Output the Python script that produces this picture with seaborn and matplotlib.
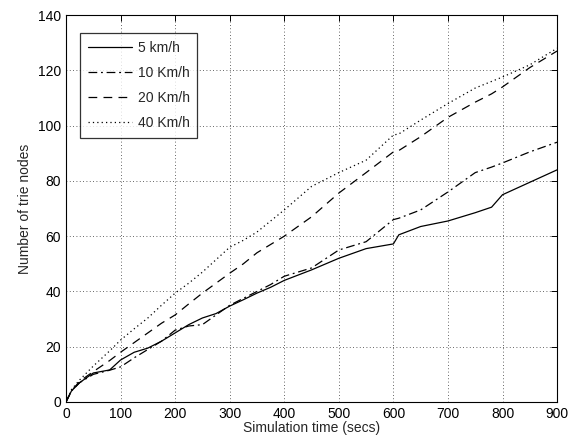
import matplotlib
matplotlib.use("Agg")
import matplotlib.pyplot as plt
import seaborn as sns
import pandas as pd

time = [0, 10, 25, 50, 80, 100, 125, 150, 175, 200, 225, 250, 275, 300, 325, 350, 375, 400,
        450, 500, 550, 600, 610, 650, 700, 750, 780, 800, 850, 900]
v5 = [0, 4, 7, 10.5, 11.6, 15.2, 18, 19.5, 22, 25, 28, 30.4, 32, 34.7, 37, 39.4, 41.5, 44,
      47.8, 52, 55.5, 57.2, 60.5, 63.5, 65.5, 68.5, 70.5, 75, 79.5, 84]
v10 = [0, 4, 7, 10, 11.5, 12.7, 16, 19, 22, 26, 27.5, 28, 31.5, 35, 37.5, 40, 42.5, 45.5,
       48.5, 55, 58, 66, 66.5, 69.5, 76, 83, 85, 86.5, 90.5, 94]
v20 = [0, 4, 7.5, 11, 15, 18, 21.5, 25, 28.5, 31.5, 35.5, 39.4, 43, 46.6, 50, 54, 57, 60,
       67, 75.6, 83, 90.5, 91, 96, 103, 108.5, 111.5, 114, 121, 127]
v40 = [0, 4.5, 8, 13, 18.5, 22.4, 26.5, 30.4, 35, 39.4, 43, 47, 51.5, 56, 58.5, 61.5, 65.5, 69.5,
       78, 83, 87.5, 96.6, 97, 102, 108, 113.6, 116, 117.6, 122, 128]
labels = ["5 km/h", "10 Km/h", "20 Km/h", "40 Km/h"]

series = [v5, v10, v20, v40]
df = pd.concat([pd.DataFrame({"time": time, "nodes": s, "speed": lab})
                for s, lab in zip(series, labels)], ignore_index=True)

sns.set_style("white")
plt.rcParams['font.family'] = ['Liberation Sans', 'DejaVu Sans']

fig = plt.figure(figsize=(5.71, 4.44), dpi=100)
ax = fig.add_axes([0.1156, 0.0946, 0.86, 0.8714])

dashes = {"5 km/h": "", "10 Km/h": (7, 3, 1.5, 3), "20 Km/h": (7, 5), "40 Km/h": (1, 2.5)}
palette = {lab: "black" for lab in labels}
sns.lineplot(data=df, x="time", y="nodes", hue="speed", style="speed",
             dashes=dashes, palette=palette, linewidth=0.9, ax=ax)

ax.set_xlim(0, 900)
ax.set_ylim(0, 140)
ax.set_xticks(range(0, 901, 100))
ax.set_yticks(range(0, 141, 20))
ax.grid(True, linestyle=(0, (1, 3)), color="black", linewidth=0.6, alpha=0.8)
ax.tick_params(direction="in", top=True, right=True, labelsize=10, length=4, width=0.7,
               colors="black")
for sp in ax.spines.values():
    sp.set_color("black")
    sp.set_linewidth(0.8)
ax.set_xlabel("Simulation time (secs)", fontsize=10, labelpad=0)
ax.set_ylabel("Number of trie nodes", fontsize=10, labelpad=4)

leg = ax.legend(loc="upper left", bbox_to_anchor=(0.0285, 0.953), borderaxespad=0,
                fontsize=10, frameon=True,
                fancybox=False, edgecolor="black", handlelength=3.2, handletextpad=0.4,
                borderpad=0.55, labelspacing=0.8, title=None)
leg.get_frame().set_linewidth(0.9)

fig.savefig("out.png", dpi=100)
